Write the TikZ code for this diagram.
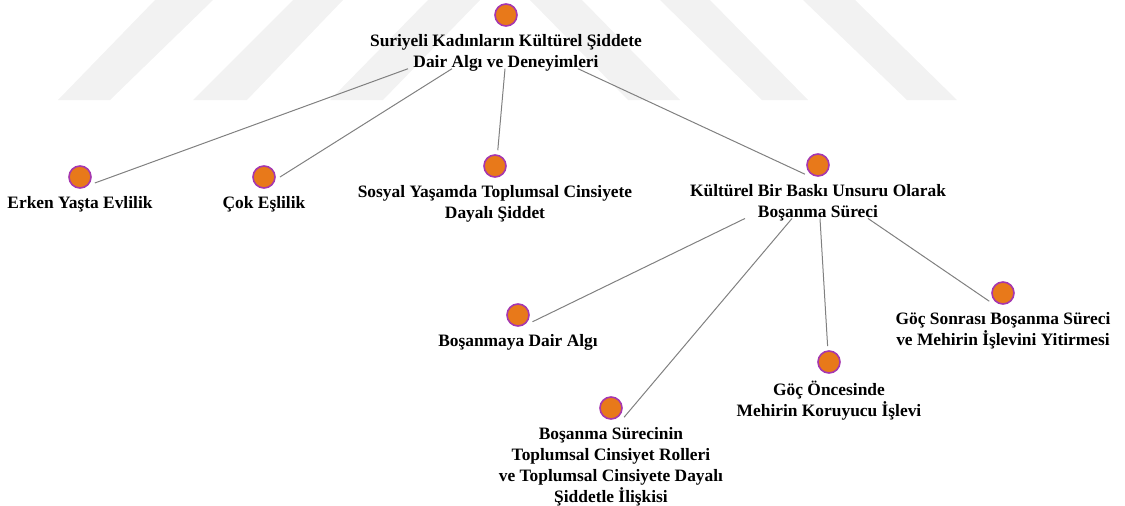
\documentclass[tikz,border=0pt]{standalone}
\usepackage{fontspec}
\setmainfont{Liberation Serif}
\usetikzlibrary{positioning,calc}

\definecolor{dotfill}{RGB}{232,121,26}
\definecolor{dotline}{RGB}{165,55,175}
\definecolor{wmark}{RGB}{242,242,242}

\begin{document}
\begin{tikzpicture}[x=0.5pt,y=-0.5pt,
    lbl/.style={align=center,font=\fontsize{8.7}{10.5}\selectfont\bfseries,inner sep=0.5pt},
    link/.style={draw=gray,line width=0.5pt}]
\useasboundingbox (0,0) rectangle (1125,505);

% watermark stripes
\fill[wmark] (58,100) -- (110,100) -- (213,0) -- (155,0) -- cycle;
\fill[wmark] (193,100) -- (247,100) -- (343,0) -- (293,0) -- cycle;
\fill[wmark] (330,100) -- (383,100) -- (480,0) -- (428,0) -- cycle;
\fill[wmark] (628,100) -- (680,100) -- (582,0) -- (530,0) -- cycle;
\fill[wmark] (762,100) -- (808,100) -- (710,0) -- (660,0) -- cycle;
\fill[wmark] (907,100) -- (957,100) -- (855,0) -- (803,0) -- cycle;

\begin{scope}[every node/.style={circle,draw=dotline,fill=dotfill,line width=0.8pt,
    minimum size=11pt,inner sep=0pt,outer sep=2.5pt}]
	\node (R) at (506,15) {};
	\node (EY) at (80,177) {};
	\node (CE) at (264,177) {};
	\node (SY) at (495,166) {};
	\node (KB) at (818,165) {};
	\node (BA) at (518,315) {};
	\node (BS) at (611,408) {};
	\node (GO) at (829,362) {};
	\node (GS) at (1003,293) {};
\end{scope}

\node[lbl,below=1pt of R] (Rt) {Suriyeli Kadınların Kültürel Şiddete\\Dair Algı ve Deneyimleri};
\node[lbl,below=1pt of EY] (EYt) {Erken Yaşta Evlilik};
\node[lbl,below=1pt of CE] (CEt) {Çok Eşlilik};
\node[lbl,below=1pt of SY] (SYt) {Sosyal Yaşamda Toplumsal Cinsiyete\\Dayalı Şiddet};
\node[lbl,below=1pt of KB] (KBt) {Kültürel Bir Baskı Unsuru Olarak\\Boşanma Süreci};
\node[lbl,below=1pt of BA] (BAt) {Boşanmaya Dair Algı};
\node[lbl,below=1pt of BS] (BSt) {Boşanma Sürecinin\\Toplumsal Cinsiyet Rolleri\\ve Toplumsal Cinsiyete Dayalı\\Şiddetle İlişkisi};
\node[lbl,below=1pt of GO] (GOt) {Göç Öncesinde\\Mehirin Koruyucu İşlevi};
\node[lbl,below=1pt of GS] (GSt) {Göç Sonrası Boşanma Süreci\\ve Mehirin İşlevini Yitirmesi};

\draw[link] ($(Rt.south)+(-98,-4)$) -- (EY.-22);
\draw[link] ($(Rt.south)+(-54,-4)$) -- (CE.0);
\draw[link] ($(Rt.south)+(-1,-4)$) -- (SY.80);
\draw[link] ($(Rt.south)+(72,-4)$) -- (KB.215);

\draw[link] ($(KBt.south)+(-73,-4)$) -- (BA.-25);
\draw[link] ($(KBt.south)+(-26,-4)$) -- (BS.-35);
\draw[link] ($(KBt.south)+(2,-4)$) -- (GO.95);
\draw[link] ($(KBt.south)+(50,-4)$) -- (GS.211);
\end{tikzpicture}
\end{document}
